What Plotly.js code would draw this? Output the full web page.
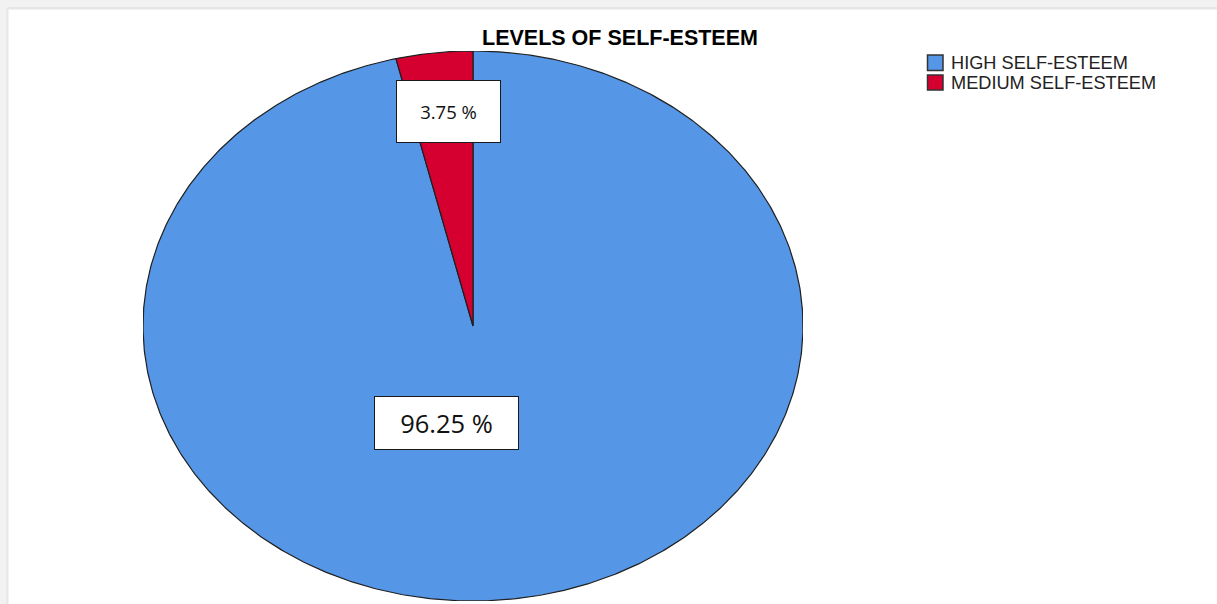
<!DOCTYPE html>
<html>
<head>
<meta charset="utf-8">
<script src="https://cdn.plot.ly/plotly-3.0.1.min.js"></script>
<style>
  html, body { margin: 0; padding: 0; background: #ffffff; }
  #chart { width: 1217px; height: 604px; }
</style>
</head>
<body>
<div id="chart"></div>
<script>
// ---- data ----
const categories = ['HIGH SELF-ESTEEM', 'MEDIUM SELF-ESTEEM'];
const percents = [96.25, 3.75];
const sliceColors = ['#5596E6', '#D5002F'];
const chartTitle = 'LEVELS OF SELF-ESTEEM';

// ---- helpers (figure pixel -> paper coords, margins are 0) ----
const W = 1217, H = 604;
const px = x => x / W;
const py = y => 1 - y / H;

// slices drawn clockwise from 12 o'clock on a unit circle; axes stretch it to the ellipse
const traces = [];
let cum = 0;
percents.forEach((p, i) => {
  const a0 = 90 - 360 * cum / 100;
  const a1 = 90 - 360 * (cum + p) / 100;
  const n = Math.max(2, Math.ceil(Math.abs(a1 - a0) * 2));
  const xs = [0], ys = [0];
  for (let k = 0; k <= n; k++) {
    const a = (a0 + (a1 - a0) * k / n) * Math.PI / 180;
    xs.push(Math.cos(a));
    ys.push(Math.sin(a));
  }
  xs.push(0); ys.push(0);
  traces.push({
    type: 'scatter', mode: 'lines', x: xs, y: ys,
    fill: 'toself', fillcolor: sliceColors[i],
    line: { color: '#1f1f1f', width: 1.2 },
    name: categories[i], showlegend: false, hoverinfo: 'skip'
  });
  cum += p;
});

// slice labels (boxed)
const labelBoxes = [
  { cx: 446.5, cy: 423, w: 143, h: 52, size: 25.5 },
  { cx: 448.5, cy: 111.5, w: 103, h: 61, size: 18.5 }
];
const annotations = percents.map((v, i) => ({
  xref: 'paper', yref: 'paper',
  x: px(labelBoxes[i].cx), y: py(labelBoxes[i].cy),
  xanchor: 'center', yanchor: 'middle',
  text: v.toFixed(2) + ' %', showarrow: false,
  width: labelBoxes[i].w, height: labelBoxes[i].h,
  bgcolor: '#ffffff', bordercolor: '#1a1a1a', borderwidth: 1, borderpad: 0,
  font: { family: 'Open Sans, Noto Sans, sans-serif', size: labelBoxes[i].size, color: '#111111' }
}));

// custom legend
const legendRows = [63, 82.5];
const legendBoxes = [[55, 70.5], [75, 90]];
const shapes = [];
categories.forEach((c, i) => {
  annotations.push({
    xref: 'paper', yref: 'paper', x: px(949), y: py(legendRows[i]),
    xanchor: 'left', yanchor: 'middle', showarrow: false, text: c,
    font: { family: 'Liberation Sans, Arial, sans-serif', size: 18.2, color: '#222222' }
  });
  shapes.push({
    type: 'rect', xref: 'paper', yref: 'paper',
    x0: px(927.5), x1: px(943), y0: py(legendBoxes[i][0]), y1: py(legendBoxes[i][1]),
    fillcolor: sliceColors[i], line: { color: '#333333', width: 1.5 }
  });
});

// grey window frame (top and left edges)
shapes.push(
  { type: 'rect', xref: 'paper', yref: 'paper', layer: 'below', x0: 0, x1: 1, y0: py(9), y1: 1, fillcolor: '#f2f2f2', line: { width: 0 } },
  { type: 'rect', xref: 'paper', yref: 'paper', layer: 'below', x0: px(7), x1: 1, y0: py(9.5), y1: py(7), fillcolor: '#e6e6e6', line: { width: 0 } },
  { type: 'rect', xref: 'paper', yref: 'paper', layer: 'below', x0: 0, x1: px(8), y0: 0, y1: 1, fillcolor: '#f2f2f2', line: { width: 0 } },
  { type: 'rect', xref: 'paper', yref: 'paper', layer: 'below', x0: px(6), x1: px(8.5), y0: 0, y1: py(8), fillcolor: '#e8e8e8', line: { width: 0 } }
);

const layout = {
  width: W, height: H,
  margin: { l: 0, r: 0, t: 0, b: 0, pad: 0 },
  paper_bgcolor: '#ffffff', plot_bgcolor: 'rgba(0,0,0,0)',
  showlegend: false,
  title: {
    text: chartTitle,
    font: { family: 'Liberation Sans, Arial, sans-serif', size: 21.5, color: '#000000', weight: 'bold' },
    x: px(620), xref: 'paper', xanchor: 'center',
    y: py(37.5), yref: 'paper', yanchor: 'middle'
  },
  xaxis: { range: [-1, 1], domain: [px(143), px(803)], visible: false, fixedrange: true },
  yaxis: { range: [-1, 1], domain: [3 / H, 553 / H], visible: false, fixedrange: true },
  shapes: shapes,
  annotations: annotations
};

Plotly.newPlot('chart', traces, layout, { displayModeBar: false, staticPlot: true });
</script>
</body>
</html>
